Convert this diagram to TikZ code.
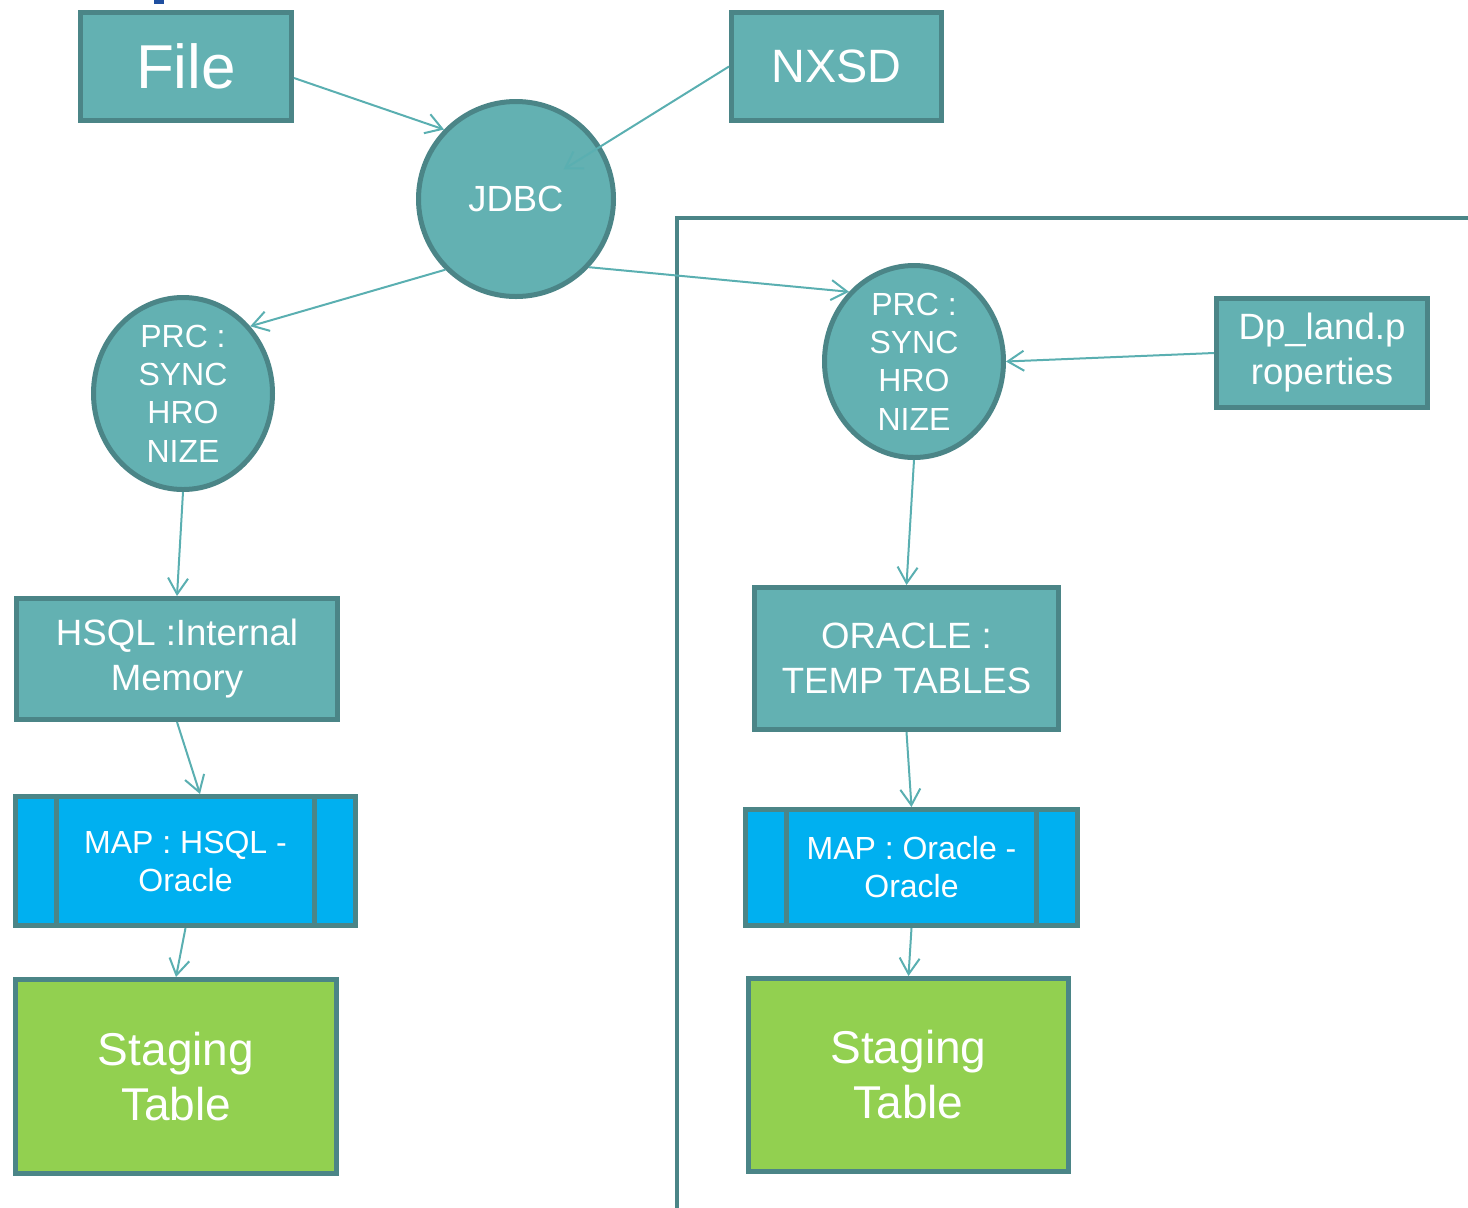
\documentclass[tikz,border=0pt]{standalone}
\usepackage{fontspec}
\setmainfont{Liberation Sans}
\usetikzlibrary{arrows.meta, shapes.geometric}

\definecolor{tealfill}{HTML}{63B1B2}
\definecolor{tealborder}{HTML}{4B8587}
\definecolor{tealline}{HTML}{5AAFB1}
\definecolor{mapblue}{HTML}{00B0F0}
\definecolor{stagegreen}{HTML}{92D050}
\definecolor{markblue}{HTML}{1F4FA0}

\begin{document}
\begin{tikzpicture}
    [
        x=0.5pt, y=-0.5pt,
        teal_box/.style={rectangle, draw=tealborder, fill=tealfill, line width=2.5pt, inner sep=0pt, align=center, text=white},
        teal_circle/.style={circle, draw=tealborder, fill=tealfill, line width=2.5pt, inner sep=0pt, text=white},
        teal_ellipse/.style={ellipse, draw=tealborder, fill=tealfill, line width=2.5pt, inner sep=0pt, minimum width=89.5pt, minimum height=96pt},
        prc_text/.style={align=center, text=white, font=\fontsize{16pt}{19.2pt}\selectfont},
        box_font/.style={font=\fontsize{18.3pt}{22.5pt}\selectfont},
        map_box/.style={rectangle, draw=tealborder, fill=mapblue, line width=2.5pt, inner sep=0pt, align=center, text=white, font=\fontsize{16pt}{19pt}\selectfont,
            path picture={
                \draw[tealborder, line width=2.5pt] ([xshift=20.5pt]path picture bounding box.north west) -- ([xshift=20.5pt]path picture bounding box.south west);
                \draw[tealborder, line width=2.5pt] ([xshift=-20.5pt]path picture bounding box.north east) -- ([xshift=-20.5pt]path picture bounding box.south east);
            }},
        stage_box/.style={rectangle, draw=tealborder, fill=stagegreen, line width=2.5pt, inner sep=0pt, align=center, text=white, font=\fontsize{23pt}{27.5pt}\selectfont},
        teal_arrow/.style={-{Straight Barb[length=8pt, width=10pt]}, line width=1pt, color=tealline},
    ]
        \useasboundingbox (0,0) rectangle (1468,1207);
        \fill[markblue] (154,0) rectangle (164,4);
        \draw[tealborder, line width=2pt] (677,1210) -- (677,218) -- (1470,218);

        \node[teal_box, minimum width=105.5pt, minimum height=54pt, font=\fontsize{31pt}{36pt}\selectfont] (file) at (186,66.5) {File} ;
        \node[teal_box, minimum width=105pt, minimum height=54pt, font=\fontsize{23.4pt}{28pt}\selectfont] (nxsd) at (836.5,66.5) {NXSD} ;
        \node[teal_circle, minimum size=97.5pt, font=\fontsize{18.2pt}{22pt}\selectfont] (jdbc) at (516,199) {JDBC} ;
        \node[teal_ellipse, label={[prc_text]center:{PRC :\\SYNC\\HRO\\NIZE}}] (prcl) at (183,393.5) {} ;
        \node[teal_ellipse, label={[prc_text]center:{PRC :\\SYNC\\HRO\\NIZE}}] (prcr) at (914,361.5) {} ;
        \node[teal_box, box_font, minimum width=105.5pt, minimum height=54.5pt] (dp) at (1322,353) {Dp\_land.p\\roperties} ;
        \node[teal_box, box_font, minimum width=160.5pt, minimum height=60.5pt] (hsql) at (177,659) {HSQL :Internal\\Memory} ;
        \node[teal_box, box_font, minimum width=152pt, minimum height=71pt] (oracle) at (906.5,658.5) {ORACLE :\\TEMP TABLES} ;
        \node[map_box, minimum width=170pt, minimum height=64.5pt] (mapl) at (185.5,861) {MAP : HSQL -\\Oracle} ;
        \node[map_box, minimum width=166pt, minimum height=58pt] (mapr) at (911.5,867.5) {MAP : Oracle -\\Oracle} ;
        \node[stage_box, minimum width=160.5pt, minimum height=97pt] (stagel) at (176,1076.5) {Staging\\Table} ;
        \node[stage_box, minimum width=160pt, minimum height=96.5pt] (stager) at (908.5,1075) {Staging\\Table} ;

        \draw[teal_arrow] ([yshift=-5.75pt]file.east) -- (jdbc.136) ;
        \draw[teal_arrow, shorten >=-22pt] (nxsd.west) -- (jdbc) ;
        \draw[teal_arrow] (jdbc.225) -- (prcl.45) ;
        \draw[teal_arrow] (jdbc.-43) -- (prcr.133) ;
        \draw[teal_arrow] (dp.west) -- (prcr.east) ;
        \draw[teal_arrow] (prcl.south) -- (hsql.north) ;
        \draw[teal_arrow] (prcr.south) -- (oracle.north) ;
        \draw[teal_arrow] (hsql.south) -- ([xshift=7.25pt]mapl.north) ;
        \draw[teal_arrow] (oracle.south) -- (mapr.north) ;
        \draw[teal_arrow] (mapl.south) -- (stagel.north) ;
        \draw[teal_arrow] (mapr.south) -- (stager.north) ;
    \end{tikzpicture}
\end{document}
